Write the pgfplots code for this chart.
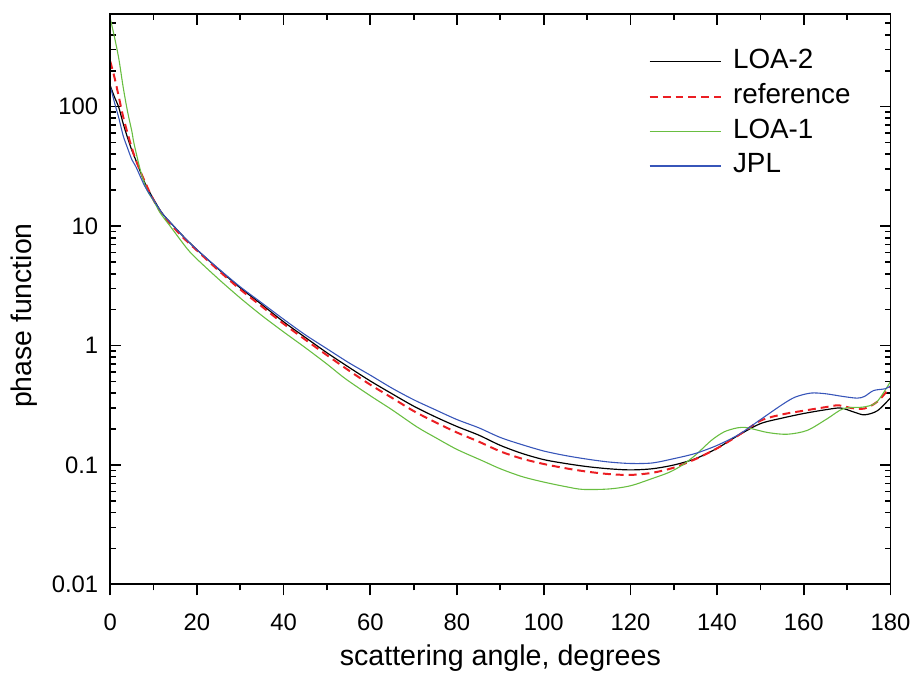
\documentclass[border=0pt]{standalone}
\usepackage{fontspec}
\setmainfont{Liberation Sans}
\usepackage{pgfplots}
\usepackage{pgfplotstable}
\pgfplotsset{compat=1.18}
\definecolor{myred}{RGB}{235,30,35}
\definecolor{mygreen}{RGB}{105,190,65}
\definecolor{myblue}{RGB}{55,85,185}

\pgfplotstableread{
x y
0 150
1 120
2 98
3 72
4 55
5 43
6 35
8 23
10 16.8
12 12.8
14 10.6
17 8.1
20 6.35
25 4.35
30 3.04
35 2.2
40 1.58
45 1.17
50 0.87
55 0.66
60 0.505
65 0.395
70 0.311
75 0.253
80 0.21
85 0.178
90 0.146
95 0.125
100 0.111
105 0.103
110 0.097
115 0.093
120 0.091
125 0.093
130 0.10
135 0.113
140 0.138
145 0.178
150 0.222
155 0.247
160 0.27
165 0.29
168.5 0.30
171.5 0.278
174 0.263
177 0.285
180 0.365
}\loatwo

\pgfplotstableread{
x y
0 240
1 175
2 120
3 82
4 60
5 45
6 35
8 23.5
10 16.5
12 12.5
14 10.3
17 7.9
20 6.25
25 4.25
30 2.95
35 2.12
40 1.52
45 1.12
50 0.83
55 0.62
60 0.47
65 0.365
70 0.283
75 0.228
80 0.187
85 0.157
90 0.13
95 0.113
100 0.102
105 0.094
110 0.088
115 0.084
120 0.0826
125 0.086
130 0.095
135 0.112
140 0.138
145 0.178
150 0.235
155 0.265
160 0.285
165 0.305
168 0.316
171 0.30
174 0.297
177 0.34
180 0.45
}\reftab

\pgfplotstableread{
x y
0 550
1 380
2 250
3 145
4 91
5 62
5.5 49
7 29
8.5 20
10 16.3
11.6 12.8
14 9.8
17.7 6.5
20 5.3
25 3.6
30 2.5
35 1.78
40 1.3
45 0.96
50 0.7
54.3 0.526
60 0.38
65 0.29
70.8 0.208
75 0.17
80 0.135
86 0.108
90 0.093
95 0.080
100 0.072
105 0.066
109 0.0625
115 0.063
120 0.067
125 0.077
129 0.087
132 0.10
135 0.121
138.7 0.161
141.7 0.19
144.8 0.205
147 0.205
151.7 0.187
156.2 0.181
160.8 0.195
165.4 0.244
169.2 0.297
173.8 0.306
176.8 0.336
180 0.50
}\loaone

\pgfplotstableread{
x y
0 149
1 108
2 80
3 57
4 45
5 36
6 31
8 21.5
10 16.5
12 12.8
14 10.6
17 8.1
20 6.35
25 4.4
30 3.1
35 2.27
40 1.66
45 1.23
50 0.94
55 0.72
60 0.565
65 0.44
70 0.352
75 0.29
80 0.24
85 0.205
90 0.17
95 0.148
100 0.131
105 0.12
110 0.112
115 0.106
120 0.103
125 0.104
130 0.113
135 0.125
140 0.146
145 0.18
150 0.24
155 0.32
158 0.37
161.6 0.40
165 0.395
169 0.375
172.3 0.363
174 0.375
176.1 0.42
178.8 0.435
180 0.46
}\jpl

\begin{document}
\begin{tikzpicture}
\begin{axis}[
  scale only axis, width=393pt, height=287.5pt,
  xmin=0, xmax=180, ymode=log, ymin=0.01, ymax=600,
  xtick={0,20,...,180},
  xticklabels={0,20,40,60,80,100,120,140,160,180},
  minor xtick={10,30,...,170},
  ytick={0.01,0.1,1,10,100},
  yticklabels={0.01,0.1,1,10,100},
  minor ytick={0.02,0.03,0.04,0.05,0.06,0.07,0.08,0.09,0.2,0.3,0.4,0.5,0.6,0.7,0.8,0.9,2,3,4,5,6,7,8,9,20,30,40,50,60,70,80,90,200,300,400,500},
  xtick pos=left, ytick pos=both,
  xtick align=outside, ytick align=inside,
  major tick length=5.5pt, minor tick length=3pt,
  axis line style={line width=1pt},
  tick style={line width=0.9pt, black},
  tick label style={font=\fontsize{12}{14}\selectfont},
  yticklabel style={xshift=-2.5pt},
  xticklabel style={yshift=-6pt},
  every axis x label/.style={at={(axis description cs:0.5,-0.1427)}, anchor=base, font=\fontsize{14.4}{16}\selectfont},
  every axis y label/.style={at={(axis description cs:-0.1107,0.471)}, anchor=center, rotate=90, font=\fontsize{14.3}{16}\selectfont},
  xlabel={scattering angle, degrees},
  ylabel={phase function},
  legend cell align=left,
  legend style={at={(axis description cs:0.6896,0.9459)}, anchor=north west, draw=none, fill=none, inner sep=0pt, row sep=0.5pt,
    font=\fontsize{14}{16}\selectfont,
    nodes={inner sep=1.5pt, text height=10.5pt, text depth=3.5pt}},
  legend image code/.code={\draw[#1] (0pt,0pt) -- (36pt,0pt); \path (40pt,0pt);},
]
\addplot[black, line width=0.6pt, smooth] table {\loatwo};
\addlegendentry{LOA-2}
\addplot[myred, line width=1pt, dash pattern=on 4pt off 2.5pt, smooth] table {\reftab};
\addlegendentry{reference}
\addplot[mygreen, line width=0.55pt, smooth] table {\loaone};
\addlegendentry{LOA-1}
\addplot[myblue, line width=0.55pt, smooth] table {\jpl};
\addlegendentry{JPL}
\end{axis}
\begin{axis}[
  scale only axis, width=393pt, height=287.5pt,
  xmin=0, xmax=180, ymin=0, ymax=1,
  xtick={0,20,...,180}, minor xtick={10,30,...,170},
  xticklabels={}, ytick=\empty,
  xtick pos=right, xtick align=inside,
  major tick length=5.5pt, minor tick length=3pt,
  axis line style={line width=1pt},
  tick style={line width=0.9pt, black},
]
\end{axis}
\path[use as bounding box] (-55.5pt,-44.5pt) rectangle (403pt,293.5pt);
\end{tikzpicture}
\end{document}
